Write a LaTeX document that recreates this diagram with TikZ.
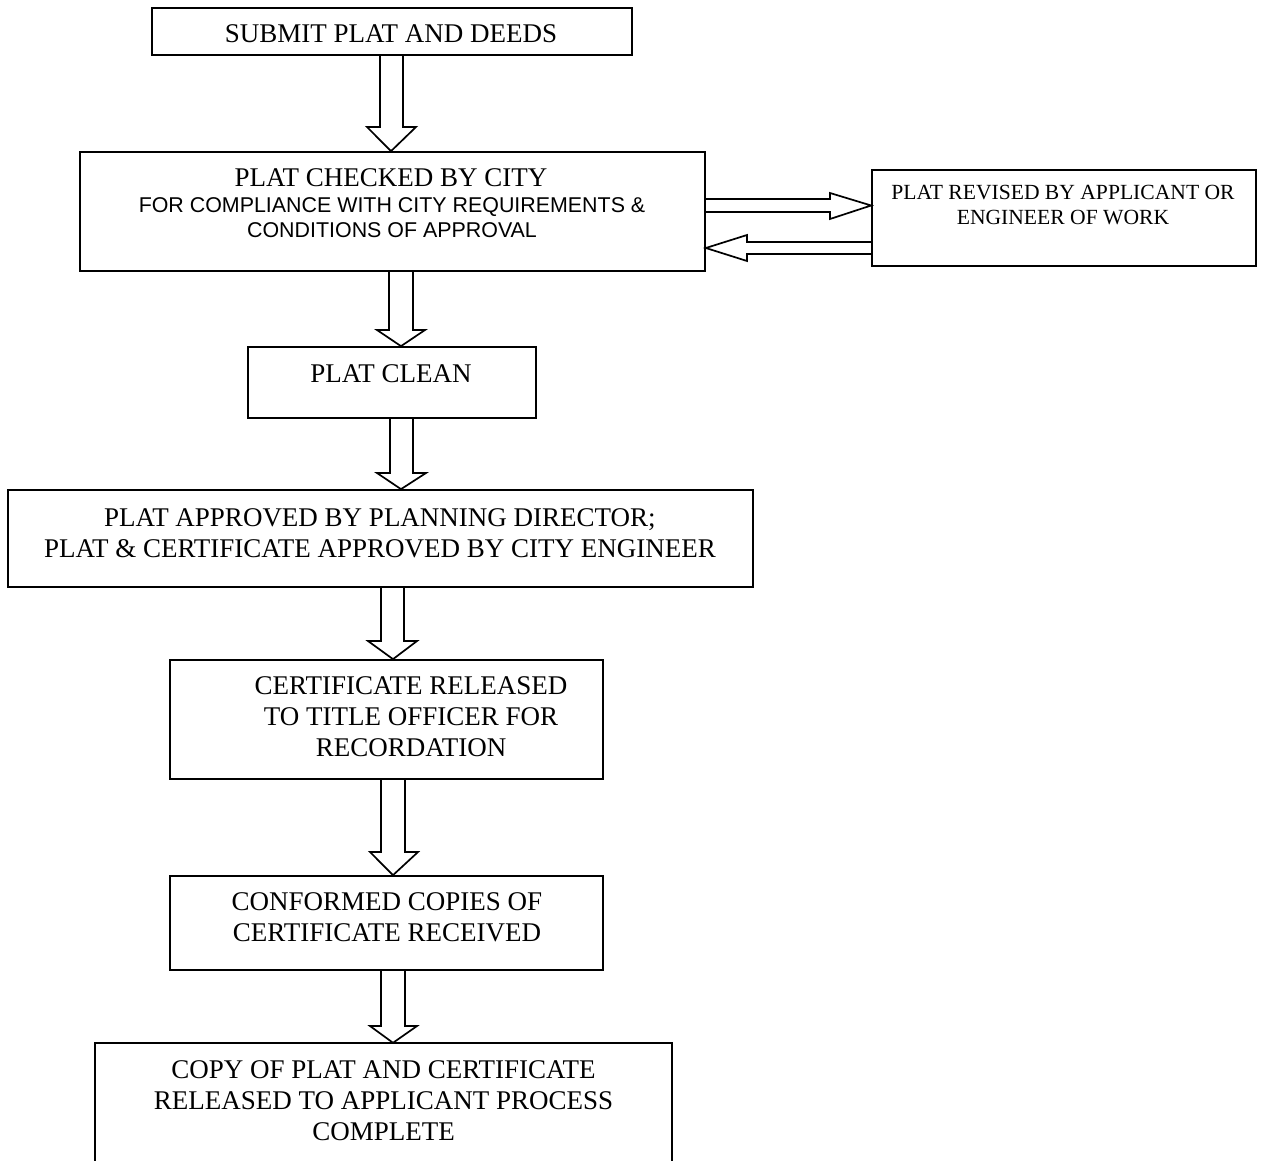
\documentclass[tikz,border=0pt]{standalone}
\usepackage{fontspec}
\setmainfont{Liberation Serif}
\newfontfamily\arialf{Liberation Sans}
\tikzset{
  box/.style={draw, line width=1.7pt, inner sep=0pt},
  frame/.style={line width=1.7pt},
  txt/.style={align=center, inner sep=0pt, font=\fontsize{27}{31}\selectfont},
  subtxt/.style={align=center, inner sep=0pt, font=\arialf\fontsize{21.4}{25}\selectfont},
  smalltxt/.style={align=center, inner sep=0pt, font=\fontsize{21.6}{25}\selectfont},
  blk/.style={draw, line width=1.7pt, line join=miter},
}
% from, to, shaft left, shaft right, head left, head right, head y, tip x
\newcommand{\bdown}[8]{%
  \draw[blk] (#3,0 |- #1.south) -- (#3,#7) -- (#5,#7) -- (#8,0 |- #2.north)
    -- (#6,#7) -- (#4,#7) -- (#4,0 |- #1.south);}
\begin{document}
\begin{tikzpicture}[x=1pt,y=-1pt]
\useasboundingbox (0,0) rectangle (1263,1161);
% boxes
\node[box, minimum width=480pt, minimum height=47pt]  (b1) at (392,31.5) {};
\node[box, minimum width=625pt, minimum height=119pt] (b2) at (392.5,211.5) {};
\node[box, minimum width=384pt, minimum height=96pt]  (b3) at (1064,218) {};
\node[box, minimum width=288pt, minimum height=71pt]  (b4) at (392,382.5) {};
\node[box, minimum width=745pt, minimum height=97pt]  (b5) at (380.5,538.5) {};
\node[box, minimum width=433pt, minimum height=119pt] (b6) at (386.5,719.5) {};
\node[box, minimum width=433pt, minimum height=94pt]  (b7) at (386.5,923) {};
\node[inner sep=0pt, minimum width=577pt, minimum height=127pt] (b8) at (383.5,1106.5) {};
\draw[frame] (b8.south west) -- (b8.north west) -- (b8.north east) -- (b8.south east);
% texts
\node[txt] (t1) at (391,34) {SUBMIT PLAT AND DEEDS};
\node[txt] (t2a) at (391,178) {PLAT CHECKED BY CITY};
\node[subtxt] (t2b) at (392,217.5) {FOR COMPLIANCE WITH CITY REQUIREMENTS \&\\CONDITIONS OF APPROVAL};
\node[smalltxt] (t3) at (1063,205.5) {PLAT REVISED BY APPLICANT OR\\ENGINEER OF WORK};
\node[txt] (t4) at (391,374) {PLAT CLEAN};
\node[txt] (t5) at (380,533) {PLAT APPROVED BY PLANNING DIRECTOR;\\PLAT \& CERTIFICATE APPROVED BY CITY ENGINEER};
\node[txt] (t6) at (411,717) {CERTIFICATE RELEASED\\TO TITLE OFFICER FOR\\RECORDATION};
\node[txt] (t7) at (387,917.5) {CONFORMED COPIES OF\\CERTIFICATE RECEIVED};
\node[txt] (t8) at (383.5,1101) {COPY OF PLAT AND CERTIFICATE\\RELEASED TO APPLICANT PROCESS\\COMPLETE};
% block arrows down
\bdown{b1}{b2}{380}{403}{367}{416}{127}{391}
\bdown{b2}{b4}{389}{413}{377}{425}{330}{401}
\bdown{b4}{b5}{390}{413}{377}{426}{473}{401}
\bdown{b5}{b6}{381}{404}{368}{417}{641}{393}
\bdown{b6}{b7}{381}{405}{370}{418}{852}{393}
\bdown{b7}{b8}{381}{405}{370}{417}{1026}{393}
% horizontal block arrows
\draw[blk] (b2.east |- 0,199) -- (830,199) -- (830,193) -- (b3.west |- 0,205.5)
  -- (830,219) -- (830,212) -- (b2.east |- 0,212);
\draw[blk] (b3.west |- 0,242) -- (747,242) -- (747,235) -- (b2.east |- 0,248)
  -- (747,261) -- (747,254) -- (b3.west |- 0,254);
\end{tikzpicture}
\end{document}
